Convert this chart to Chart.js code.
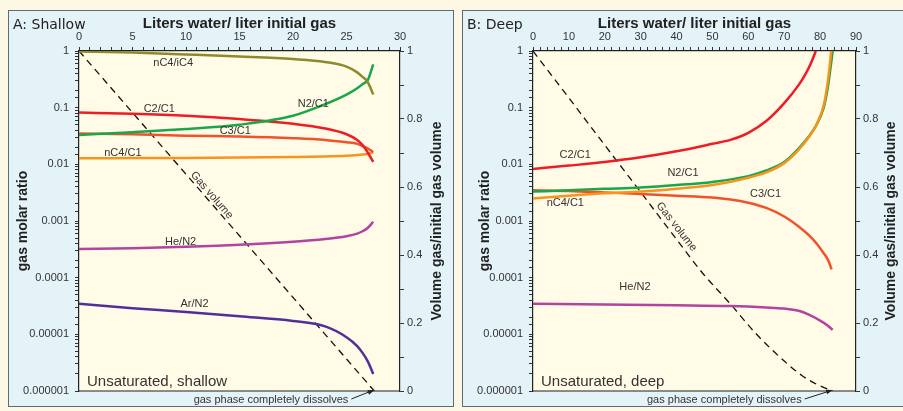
<!DOCTYPE html>
<html>
<head>
<meta charset="utf-8">
<script src="https://cdn.jsdelivr.net/npm/chart.js@4.4.0/dist/chart.umd.min.js"></script>
<style>
  html, body { margin: 0; padding: 0; background: #fcf8e3; overflow: hidden; width: 903px; height: 411px; }
  .panel { position: absolute; top: 10px; width: 446px; height: 397px; box-sizing: border-box;
           border: 1px solid #5f6a74; background: #e4f3f8; }
  #pA { left: 8px; }
  #pB { left: 462px; }
  canvas { display: block; }
</style>
</head>
<body>
<div class="panel" id="pA"><canvas id="chartA" width="444" height="395"></canvas></div>
<div class="panel" id="pB"><canvas id="chartB" width="444" height="395"></canvas></div>
<script>
// ---- A: shallow ----
var xA       = [0, 5, 10, 15, 20, 23, 25, 26, 26.5, 27, 27.5];
var nc4ic4A  = [0.98, 0.94, 0.87, 0.8, 0.72, 0.64, 0.53, 0.42, 0.35, 0.28, 0.17];
var n2c1A    = [0.033, 0.037, 0.042, 0.05, 0.072, 0.115, 0.17, 0.22, 0.26, 0.31, 0.58];
var c2c1A    = [0.082, 0.078, 0.072, 0.063, 0.052, 0.043, 0.034, 0.027, 0.022, 0.016, 0.011];
var c3c1A    = [0.035, 0.034, 0.032, 0.031, 0.029, 0.027, 0.0245, 0.023, 0.021, 0.019, 0.0165];
var nc4c1A   = [0.0128, 0.0129, 0.013, 0.0132, 0.0135, 0.0138, 0.0142, 0.0146, 0.0149, 0.0154, 0.0163];
var hen2A    = [0.00032, 0.00033, 0.00035, 0.00038, 0.00043, 0.00048, 0.00054, 0.0006, 0.00066, 0.00076, 0.00097];
var arn2A    = [0.0000345, 0.000029, 0.0000248, 0.0000208, 0.0000172, 0.0000138, 0.0000089, 0.0000062, 0.0000047, 0.0000033, 0.000002];
var gasXA    = [0, 27.6];
var gasVA    = [1, 0];

// ---- B: deep ----
var xC2B     = [0, 10, 20, 30, 40, 50, 55, 60, 65, 70, 74, 76, 77.5, 78.8];
var c2c1B    = [0.0083, 0.0095, 0.011, 0.0133, 0.017, 0.023, 0.027, 0.036, 0.058, 0.12, 0.25, 0.4, 0.62, 1.0];
var xN2B     = [0, 10, 20, 30, 40, 50, 60, 65, 70, 74, 77, 79, 81, 82, 82.8, 83.5];
var n2c1B    = [0.0033, 0.0035, 0.0037, 0.0039, 0.0043, 0.0049, 0.0062, 0.0078, 0.011, 0.019, 0.032, 0.05, 0.1, 0.2, 0.45, 1.0];
var xNc4B    = [0, 10, 20, 30, 40, 50, 60, 65, 70, 74, 77, 79, 81, 82, 82.6, 83.1];
var nc4c1B   = [0.0025, 0.0028, 0.0031, 0.0033, 0.0037, 0.0043, 0.0058, 0.0072, 0.0105, 0.018, 0.031, 0.05, 0.11, 0.25, 0.5, 1.0];
var xC3B     = [0, 10, 20, 30, 40, 50, 55, 60, 65, 70, 74, 77, 79, 81, 82.3, 83.2];
var c3c1B    = [0.0035, 0.0034, 0.0032, 0.003, 0.0028, 0.0026, 0.0024, 0.0021, 0.0017, 0.0012, 0.0008, 0.00055, 0.0004, 0.00027, 0.0002, 0.00014];
var xHeB     = [0, 20, 40, 55, 65, 70, 74, 77, 80, 82, 83.5];
var hen2B    = [0.0000345, 0.0000335, 0.0000325, 0.0000315, 0.0000298, 0.0000285, 0.000026, 0.000022, 0.0000175, 0.0000145, 0.000012];
var gasXB    = [0, 10, 20, 30, 40, 47, 55, 62, 70, 75, 79, 83.5];
var gasVB    = [1, 0.862, 0.723, 0.585, 0.446, 0.35, 0.256, 0.17, 0.088, 0.045, 0.02, 0];

// labels on the curves (data coords)
var labelsA = [
  {t: 'nC4/iC4', x: 8.8, y: 0.61},
  {t: 'C2/C1', x: 7.5, y: 0.095},
  {t: 'N2/C1', x: 21.9, y: 0.116},
  {t: 'C3/C1', x: 14.6, y: 0.039},
  {t: 'nC4/C1', x: 4.1, y: 0.0157},
  {t: 'He/N2', x: 9.5, y: 0.00043},
  {t: 'Ar/N2', x: 10.8, y: 0.0000343}
];
var labelsB = [
  {t: 'C2/C1', x: 11.75, y: 0.0146},
  {t: 'N2/C1', x: 41.8, y: 0.00695},
  {t: 'C3/C1', x: 64.8, y: 0.003},
  {t: 'nC4/C1', x: 9.0, y: 0.0021},
  {t: 'He/N2', x: 28.4, y: 0.0000676}
];

Chart.defaults.font.family = '"Liberation Sans", Arial, sans-serif';
Chart.defaults.font.size = 11;
Chart.defaults.color = '#333';

function pts(xs, ys) {
  return xs.map(function (x, i) { return {x: x, y: ys[i]}; });
}

function line(label, xs, ys, color) {
  return {
    label: label, data: pts(xs, ys), borderColor: color, borderWidth: 2.5,
    pointRadius: 0, fill: false, cubicInterpolationMode: 'monotone', yAxisID: 'y'
  };
}

function gasLine(xs, ys) {
  return {
    label: 'Gas volume', data: pts(xs, ys), borderColor: '#111', borderWidth: 1.3,
    borderDash: [7, 5], pointRadius: 0, fill: false, cubicInterpolationMode: 'monotone', yAxisID: 'y2'
  };
}

function decor(p) {
  return {
    id: 'decor',
    beforeDraw: function (chart) {
      var a = chart.chartArea, c = chart.ctx;
      c.save();
      c.fillStyle = '#fffbe6';
      c.fillRect(a.left, a.top, a.right - a.left, a.bottom - a.top);
      c.restore();
    },
    afterDraw: function (chart) {
      var a = chart.chartArea, c = chart.ctx;
      var sx = chart.scales.x, sy = chart.scales.y, sv = chart.scales.y2;
      c.save();
      // bottom frame line
      c.strokeStyle = '#222'; c.lineWidth = 1.2;
      c.beginPath(); c.moveTo(a.left, a.bottom); c.lineTo(a.right, a.bottom); c.stroke();

      // curve labels
      c.fillStyle = '#333';
      c.font = '11px "Liberation Sans", Arial, sans-serif';
      c.textAlign = 'center'; c.textBaseline = 'middle';
      p.labels.forEach(function (l) {
        c.fillText(l.t, sx.getPixelForValue(l.x), sy.getPixelForValue(l.y));
      });

      // gas volume label along the dashed line
      c.save();
      c.translate(sx.getPixelForValue(p.gasLabel.x), sv.getPixelForValue(p.gasLabel.v));
      c.rotate(p.gasLabel.angle * Math.PI / 180);
      c.fillText('Gas volume', 0, 0);
      c.restore();

      // panel title
      c.font = '14px "DejaVu Sans", sans-serif';
      c.fillStyle = '#222';
      c.textAlign = 'left';
      c.fillText(p.title, 4, 14);

      // right axis title
      c.save();
      c.translate(428, (a.top + a.bottom) / 2);
      c.rotate(-Math.PI / 2);
      c.textAlign = 'center';
      c.font = 'bold 14px "Liberation Sans", Arial, sans-serif';
      c.fillText('Volume gas/initial gas volume', 0, 0);
      c.restore();

      // corner note
      c.font = '15px "Liberation Sans", Arial, sans-serif';
      c.fillStyle = '#333';
      c.textAlign = 'left';
      c.fillText(p.note, a.left + 8, a.bottom - 9);

      // footnote + arrow
      var tipX = sx.getPixelForValue(p.endX), tipY = a.bottom - 1;
      var endText = tipX - p.gap;
      c.font = '11px "Liberation Sans", Arial, sans-serif';
      c.textAlign = 'right';
      c.fillText('gas phase completely dissolves', endText, a.bottom + 9);
      c.strokeStyle = '#222'; c.lineWidth = 1;
      var sx0 = endText + 3, sy0 = a.bottom + 8;
      c.beginPath(); c.moveTo(sx0, sy0); c.lineTo(tipX - 3, tipY + 1); c.stroke();
      var ang = Math.atan2(tipY - sy0, tipX - sx0);
      c.fillStyle = '#222';
      c.beginPath();
      c.moveTo(tipX, tipY);
      c.lineTo(tipX - 7 * Math.cos(ang - 0.35), tipY - 7 * Math.sin(ang - 0.35));
      c.lineTo(tipX - 7 * Math.cos(ang + 0.35), tipY - 7 * Math.sin(ang + 0.35));
      c.closePath(); c.fill();
      c.restore();
    }
  };
}

function isPow10(v) {
  var l = Math.log10(v);
  return Math.abs(l - Math.round(l)) < 1e-6;
}

function buildChart(id, p, datasets) {
  return new Chart(document.getElementById(id), {
    type: 'line',
    data: {datasets: datasets},
    options: {
      responsive: false,
      animation: false,
      layout: {padding: {left: 0, right: 0, top: 0, bottom: 15}},
      plugins: {legend: {display: false}, tooltip: {enabled: false}},
      scales: {
        x: {
          type: 'linear', position: 'top', min: 0, max: p.xMax,
          ticks: {
            stepSize: p.step, autoSkip: false, maxRotation: 0, padding: 3,
            callback: function (v) { return Math.round(v) % p.labelStep === 0 ? Math.round(v) : ''; }
          },
          title: {display: true, text: 'Liters water/ liter initial gas', color: '#222',
                  font: {size: 15, weight: 'bold'}, padding: {top: 4, bottom: 0}},
          grid: {drawOnChartArea: false, tickLength: 4, color: '#333'},
          border: {color: '#222', width: 1.2},
          afterFit: function (s) { s.height = 40; }
        },
        y: {
          type: 'logarithmic', position: 'left', min: 0.000001, max: 1,
          ticks: {
            autoSkip: false, padding: 6,
            callback: function (v) {
              if (!isPow10(v)) return '';
              var e = Math.round(Math.log10(v));
              return e >= 0 ? '1' : v.toFixed(-e);
            }
          },
          title: {display: true, text: 'gas molar ratio', color: '#222',
                  font: {size: 14, weight: 'bold'}, padding: {top: p.leftPad, bottom: 0}},
          grid: {drawOnChartArea: false, tickLength: 4, color: '#333'},
          border: {color: '#222', width: 1.2},
          afterFit: function (s) { s.width = 70; }
        },
        y2: {
          type: 'linear', position: 'right', min: 0, max: 1,
          ticks: {
            stepSize: 0.1, autoSkip: false, padding: 3,
            callback: function (v) {
              var k = Math.round(v * 10);
              return k % 2 === 0 ? String(k / 10) : '';
            }
          },
          grid: {drawOnChartArea: false, tickLength: 4, color: '#333'},
          border: {color: '#222', width: 1.2},
          afterFit: function (s) { s.width = p.rightW; }
        }
      }
    },
    plugins: [decor(p)]
  });
}

buildChart('chartA', {
  xMax: 30, step: 1, labelStep: 5, leftPad: 6, rightW: 53,
  title: 'A: Shallow', note: 'Unsaturated, shallow', endX: 27.6, gap: 26,
  labels: labelsA, gasLabel: {x: 12.4, v: 0.576, angle: 49}
}, [
  line('nC4/iC4', xA, nc4ic4A, '#8b8b2e'),
  line('N2/C1', xA, n2c1A, '#1aa64b'),
  line('C2/C1', xA, c2c1A, '#ee1c25'),
  line('C3/C1', xA, c3c1A, '#f0522a'),
  line('nC4/C1', xA, nc4c1A, '#f7941d'),
  line('He/N2', xA, hen2A, '#b0449f'),
  line('Ar/N2', xA, arn2A, '#512f9b'),
  gasLine(gasXA, gasVA)
]);

buildChart('chartB', {
  xMax: 90, step: 2, labelStep: 10, leftPad: 14, rightW: 51,
  title: 'B: Deep', note: 'Unsaturated, deep', endX: 83.5, gap: 31,
  labels: labelsB, gasLabel: {x: 40, v: 0.483, angle: 52}
}, [
  line('C2/C1', xC2B, c2c1B, '#ee1c25'),
  line('nC4/C1', xNc4B, nc4c1B, '#f7941d'),
  line('N2/C1', xN2B, n2c1B, '#1aa64b'),
  line('C3/C1', xC3B, c3c1B, '#f0522a'),
  line('He/N2', xHeB, hen2B, '#b0449f'),
  gasLine(gasXB, gasVB)
]);
</script>
</body>
</html>
